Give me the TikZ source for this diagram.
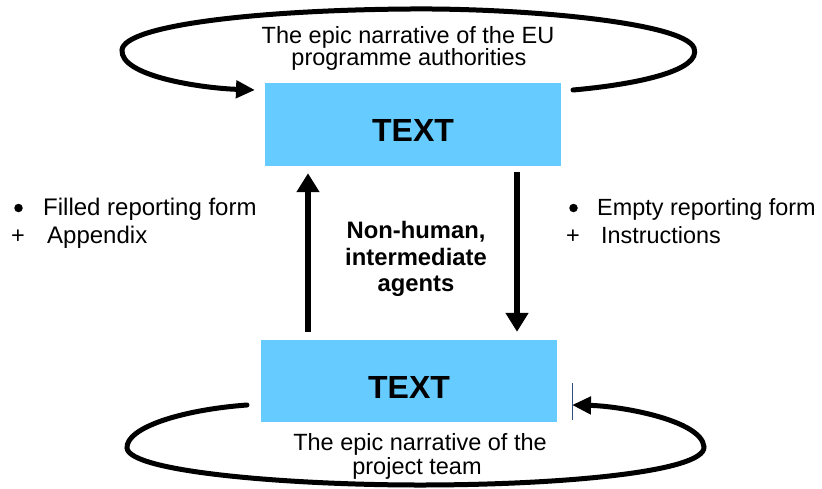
\documentclass[tikz,border=0pt]{standalone}
\usepackage{fontspec}
\setmainfont{Liberation Sans}
\usetikzlibrary{arrows.meta}
\definecolor{boxblue}{HTML}{66CCFF}
\definecolor{thinblue}{HTML}{2F4F7F}
\tikzset{
  bluebox/.style={fill=boxblue, draw=none, inner sep=0pt},
  bigtxt/.style={font=\fontsize{32}{36}\selectfont\bfseries, inner sep=0pt},
  txt/.style={font=\fontsize{23.5}{26}\selectfont, inner sep=0pt, anchor=base},
  txtw/.style={txt, font=\fontsize{24}{26}\selectfont, anchor=base west},
  txtr/.style={txt, font=\fontsize{23.4}{26}\selectfont, anchor=base west},
  midtxt/.style={txt, font=\fontsize{23.8}{26}\selectfont\bfseries},
  dot/.style={circle, fill=black, inner sep=0pt, minimum size=8.5pt},
  loop/.style={line width=5pt, line cap=round, -{Triangle[length=19pt,width=17pt]}},
  vert/.style={line width=6pt, -{Triangle[length=19pt,width=22pt]}}
}
\begin{document}
\begin{tikzpicture}[x=1pt,y=-1pt]
\useasboundingbox (0,0) rectangle (822,488);
% boxes
\node[bluebox, minimum width=296pt, minimum height=83pt] (top) at (413,124.5) {};
\node[bluebox, minimum width=296pt, minimum height=82pt] (bot) at (409,381) {};
\node[bigtxt] (toptext) at (413,130) {TEXT};
\node[bigtxt] (bottext) at (409,387) {TEXT};
% labels
\node[txt] (tl1) at (408,43) {The epic narrative of the EU};
\node[txt] (tl2) at (409,65) {programme authorities};
\node[txt] (bl1) at (420,450) {The epic narrative of the};
\node[txt] (bl2) at (417,474) {project team};
\node[midtxt] (m1) at (416,238) {Non-human,};
\node[midtxt] (m2) at (416,265) {intermediate};
\node[midtxt] (m3) at (416,291) {agents};
\node[dot] (lb1) at (18.5,208) {};
\node[txtw] (lt1) at (43,215) {Filled reporting form};
\node[txt] (lb2) at (18,243) {+};
\node[txtw] (lt2) at (47,243) {Appendix};
\node[dot] (rb1) at (573.5,208) {};
\node[txtr] (rt1) at (597,215) {Empty reporting form};
\node[txt] (rb2) at (573,243) {+};
\node[txtr] (rt2) at (601,243) {Instructions};
% vertical arrows
\coordinate (upx) at (308,0);
\coordinate (dnx) at (517,0);
\draw[vert, shorten <=8pt, shorten >=7pt] (bot.north -| upx) -- (top.south -| upx);
\draw[vert, shorten <=6pt, shorten >=8pt] (top.south -| dnx) -- (bot.north -| dnx);
% top loop
\coordinate (ts) at (573,90);
\coordinate (te) at (255,90);
\draw[loop] (ts) .. controls (640,84) and (702,70) .. (694,48)
  .. controls (684,22) and (520,8) .. (410,9)
  .. controls (260,10) and (124,25) .. (122,50)
  .. controls (120,76) and (200,88) .. (te);
% bottom loop
\coordinate (bs) at (247,405);
\coordinate (be) at (572,405);
\draw[loop] (bs) .. controls (180,410) and (126,428) .. (127,448)
  .. controls (129,472) and (290,485) .. (420,485)
  .. controls (560,485) and (705,472) .. (704,447)
  .. controls (702,420) and (620,406) .. (be);
% thin marker line
\draw[thinblue, line width=1pt] (572,383) -- (572,420);
\end{tikzpicture}
\end{document}
